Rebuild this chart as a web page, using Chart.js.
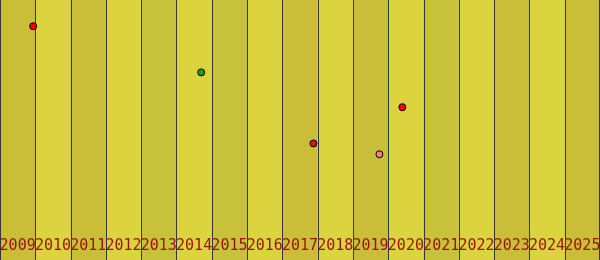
<!DOCTYPE html>
<html>
<head>
<meta charset="utf-8">
<script src="https://cdn.jsdelivr.net/npm/chart.js@4.4.1/dist/chart.umd.min.js"></script>
<style>
html,body{margin:0;padding:0;background:#dcd43e;}
#wrap{width:600px;height:260px;}
</style>
</head>
<body>
<div id="wrap"><canvas id="c" width="600" height="260"></canvas></div>
<script>
// ---- data ----
const years = ['2009','2010','2011','2012','2013','2014','2015','2016','2017','2018','2019','2020','2021','2022','2023','2024','2025'];
const redPoints = [
  {x: 2009.94, y: 88.7},
  {x: 2017.88, y: 38.2},
  {x: 2020.40, y: 53.8}
];
const greenPoints = [
  {x: 2014.70, y: 68.8}
];
const salmonPoints = [
  {x: 2019.75, y: 33.5}
];

// ---- styles ----
const bandLight = '#dcd43e';
const bandDark = '#cabd37';
const bandDarkGreen = '#c8c13a';
const greenishBands = ['2013','2015','2021'];

const bandsPlugin = {
  id: 'bands',
  beforeDraw(chart) {
    const ctx = chart.ctx;
    const xs = chart.scales.x;
    const H = chart.height;
    ctx.save();
    years.forEach((yr, i) => {
      const v = Number(yr);
      const x0 = xs.getPixelForValue(v);
      const x1 = xs.getPixelForValue(v + 1);
      let col = (i % 2 === 0) ? bandDark : bandLight;
      if (i % 2 === 0 && greenishBands.includes(yr)) col = bandDarkGreen;
      ctx.fillStyle = col;
      ctx.fillRect(x0, 0, x1 - x0, H);
    });
    ctx.strokeStyle = '#35353f';
    ctx.lineWidth = 1;
    for (let i = 0; i <= years.length; i++) {
      let x = Math.round(xs.getPixelForValue(Number(years[0]) + i));
      x = Math.min(Math.max(x, 0), chart.width - 1) + 0.5;
      ctx.beginPath();
      ctx.moveTo(x, 0);
      ctx.lineTo(x, H);
      ctx.stroke();
    }
    ctx.restore();
  }
};

const mk = (data, color) => ({
  data: data,
  xAxisID: 'x',
  yAxisID: 'y',
  pointRadius: 3.5,
  pointHoverRadius: 3.5,
  pointBackgroundColor: color,
  pointBorderColor: '#000000',
  pointBorderWidth: 1,
  showLine: false,
  clip: false
});

new Chart(document.getElementById('c'), {
  type: 'scatter',
  data: {
    labels: years,
    datasets: [
      mk(redPoints, '#ff0000'),
      mk(greenPoints, '#1aa01a'),
      mk(salmonPoints, '#f08080')
    ]
  },
  options: {
    responsive: false,
    animation: false,
    devicePixelRatio: 1,
    layout: { padding: 0, autoPadding: false },
    plugins: { legend: { display: false }, tooltip: { enabled: false } },
    scales: {
      x: {
        type: 'linear',
        display: false,
        min: Number(years[0]),
        max: Number(years[years.length - 1]) + 1
      },
      xl: {
        type: 'category',
        position: 'bottom',
        labels: years,
        offset: true,
        grid: { display: false, drawTicks: false },
        border: { display: false },
        ticks: {
          color: '#9c1212',
          font: { family: 'DejaVu Sans Mono', size: 15 },
          padding: 5,
          maxRotation: 0,
          autoSkip: false
        },
        afterFit(s) {
          s.height = 28;
          s.paddingLeft = 0;
          s.paddingRight = 0;
        }
      },
      y: {
        type: 'linear',
        display: false,
        min: 0,
        max: 100
      }
    }
  },
  plugins: [bandsPlugin]
});
</script>
</body>
</html>
